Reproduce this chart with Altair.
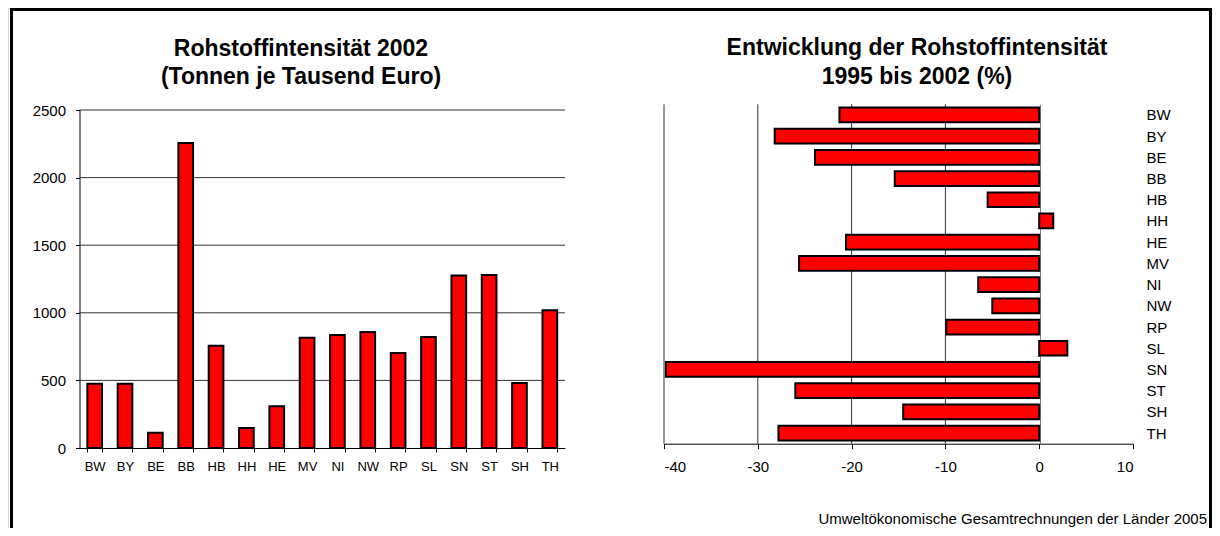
import altair as alt
import pandas as pd

# ---- data ----
regions = ["BW", "BY", "BE", "BB", "HB", "HH", "HE", "MV",
           "NI", "NW", "RP", "SL", "SN", "ST", "SH", "TH"]
intensity_2002 = [475, 475, 113, 2255, 757, 148, 308, 816,
                  836, 858, 703, 821, 1275, 1280, 481, 1018]
change_1995_2002 = [-21.3, -28.2, -23.9, -15.4, -5.5, 1.5, -20.6, -25.6,
                    -6.5, -5.0, -9.9, 3.0, -39.8, -26.0, -14.5, -27.8]
left_ticks = [0, 500, 1000, 1500, 2000, 2500]
left_grid = [500, 1000, 1500, 2000, 2500]
right_ticks = [-40, -30, -20, -10, 0, 10]
right_grid = [-40, -30, -20, -10]
left_title = ["Rohstoffintensität 2002", "(Tonnen je Tausend Euro)"]
right_title = ["Entwicklung der Rohstoffintensität", "1995 bis 2002 (%)"]
footer = "Umweltökonomische Gesamtrechnungen der Länder 2005"

FONT = "Liberation Sans"
W, H = 1204, 520

df_left = pd.DataFrame({"region": regions, "value": intensity_2002})
df_right = pd.DataFrame({"region": regions, "change": change_1995_2002})
one = pd.DataFrame({"k": [0]})

# ---- frame border ----
border_left = alt.Chart(one).mark_rule(color="black", strokeWidth=3).encode(
    x=alt.value(3.5), y=alt.value(0), y2=alt.value(H))
border_top = alt.Chart(one).mark_rule(color="black", strokeWidth=3).encode(
    x=alt.value(2), x2=alt.value(1204), y=alt.value(1.5))
border_right = alt.Chart(one).mark_rule(color="black", strokeWidth=3).encode(
    x=alt.value(1202.5), y=alt.value(0), y2=alt.value(H))

# ---- left chart ----
ly_scale = alt.Scale(domain=[0, 2500], range=[440, 102], nice=False)
lx_scale = alt.Scale(range=[71.5, 557], paddingInner=0.516, paddingOuter=0.258)
ly_axis = alt.Axis(orient="left", offset=-71.5, values=left_ticks, title=None,
                   labelExpr="'' + datum.value",
                   labelFont=FONT, labelFontSize=15, labelColor="black",
                   labelPadding=10, tickSize=4, tickColor="black",
                   domainColor="black", domainWidth=1, grid=False)
lx_axis = alt.Axis(orient="bottom", offset=-(H - 440), title=None, labelAngle=0,
                   labelFont=FONT, labelFontSize=13, labelColor="black",
                   labelPadding=8, tickBand="extent", tickSize=4,
                   tickColor="black", domainColor="black", grid=False)

left_gridlines = alt.Chart(pd.DataFrame({"value": left_grid})).mark_rule(
    color="#333333", strokeWidth=1).encode(
    y=alt.Y("value:Q", scale=ly_scale, axis=ly_axis),
    x=alt.value(71.5), x2=alt.value(557))

left_bars = alt.Chart(df_left).mark_bar(
    color="#FF0000", stroke="black", strokeWidth=2).encode(
    x=alt.X("region:N", sort=regions, scale=lx_scale, axis=lx_axis),
    y=alt.Y("value:Q", scale=ly_scale, axis=ly_axis))

left_layer = alt.layer(left_gridlines, left_bars)

# ---- right chart ----
rx_scale = alt.Scale(domain=[-40, 10], range=[656, 1125], nice=False, zero=False)
ry_scale = alt.Scale(range=[96.3, 435.7], paddingInner=0.307, paddingOuter=0.153)
rx_axis = alt.Axis(orient="bottom", offset=-(H - 435.7), values=right_ticks, title=None,
                   labelExpr="'' + datum.value",
                   labelFont=FONT, labelFontSize=15, labelColor="black",
                   labelPadding=11, tickSize=5, tickColor="black",
                   domainColor="black", grid=False)
ry_axis = alt.Axis(orient="left", offset=-1032, title=None,
                   labelFont=FONT, labelFontSize=15, labelColor="black",
                   labelAlign="left", labelPadding=-109,
                   tickBand="extent", tickSize=3, tickColor="#808080",
                   domainColor="#808080", grid=False)

right_gridlines = alt.Chart(pd.DataFrame({"change": right_grid})).mark_rule(
    color="#333333", strokeWidth=1).encode(
    x=alt.X("change:Q", scale=rx_scale, axis=rx_axis),
    y=alt.value(96.3), y2=alt.value(435.7))

right_bars = alt.Chart(df_right).mark_bar(
    color="#FF0000", stroke="black", strokeWidth=2).encode(
    x=alt.X("change:Q", scale=rx_scale, axis=rx_axis),
    y=alt.Y("region:N", sort=regions, scale=ry_scale, axis=ry_axis))

right_layer = alt.layer(right_gridlines, right_bars)

# ---- texts ----
def text_line(s, x, y, size, bold=True, align="center"):
    return alt.Chart(pd.DataFrame({"t": [s]})).mark_text(
        font=FONT, fontSize=size, fontWeight="bold" if bold else "normal",
        align=align, baseline="alphabetic", color="black").encode(
        text="t:N", x=alt.value(x), y=alt.value(y))

t1 = text_line(left_title[0], 293, 48, 23)
t2 = text_line(left_title[1], 293, 75.5, 23)
t3 = text_line(right_title[0], 909, 47, 23)
t4 = text_line(right_title[1], 909, 76, 23)
t5 = text_line(footer, 1199, 516, 15, bold=False, align="right")

chart = alt.layer(
    border_left, border_top, border_right,
    left_layer, right_layer,
    t1, t2, t3, t4, t5,
).resolve_scale(x="independent", y="independent").properties(
    width=W, height=H,
    autosize=alt.AutoSizeParams(type="none"),
    padding={"left": 0, "top": 0, "right": 0, "bottom": 0},
).configure_view(stroke=None).configure(font=FONT)

chart.save("out.html", embed_options={"renderer": "svg", "actions": False})
